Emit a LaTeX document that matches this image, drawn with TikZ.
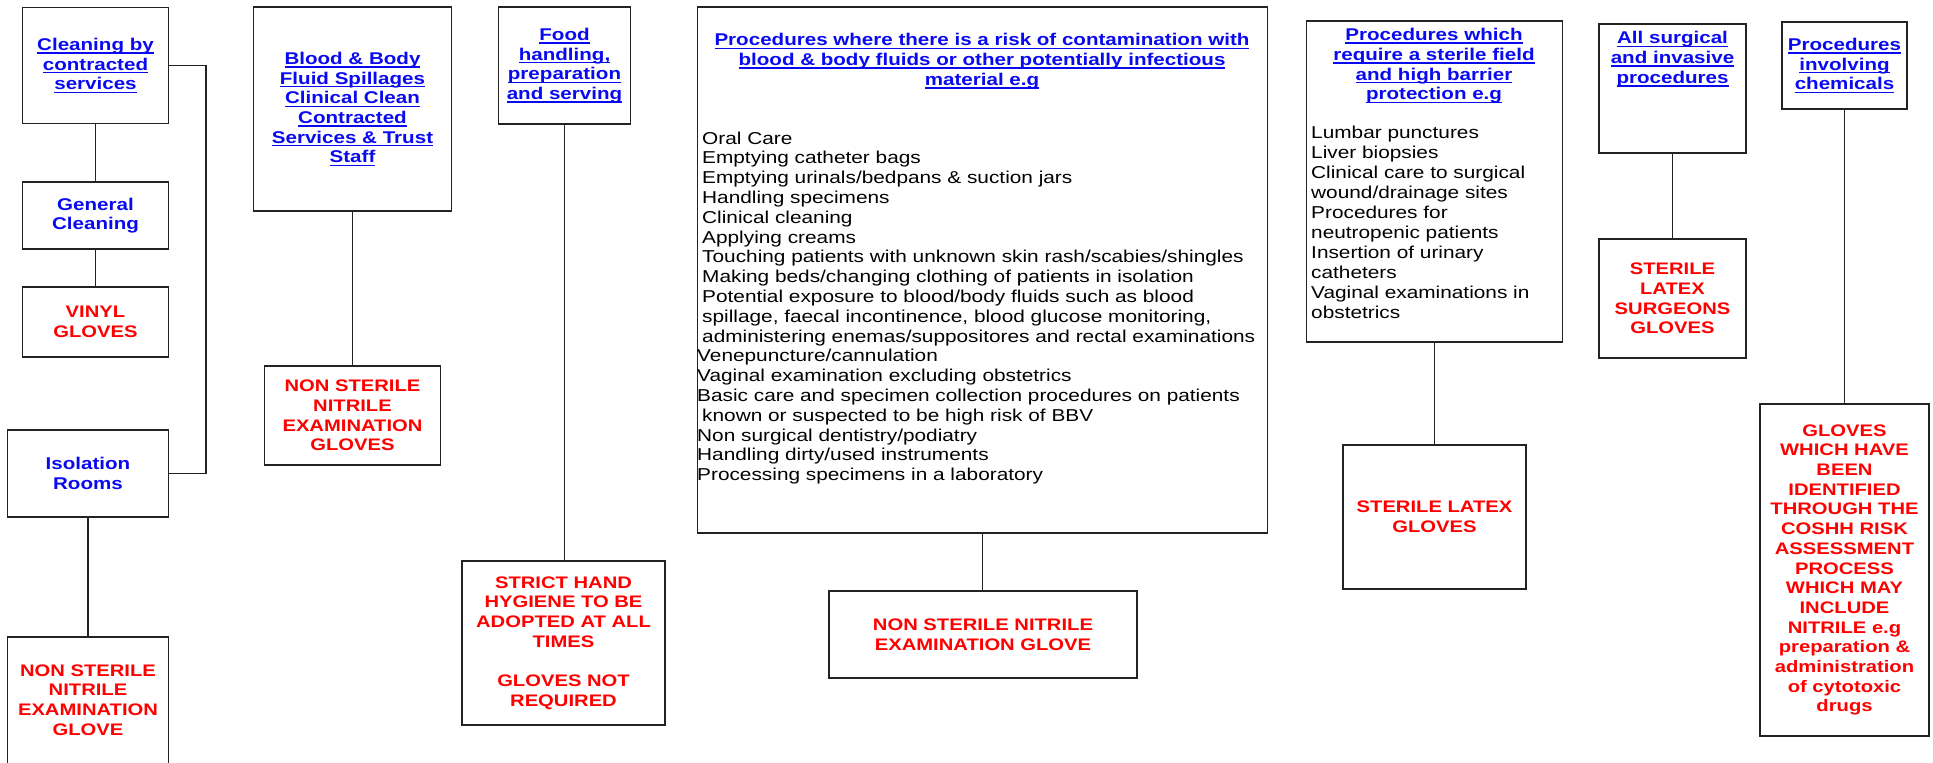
\documentclass[tikz,border=0pt]{standalone}
\usepackage{fontspec}
\setmainfont{Liberation Sans}[FakeStretch=1.21]
\definecolor{hblue}{RGB}{10,10,240}
\definecolor{hred}{RGB}{255,0,0}
\definecolor{edge}{RGB}{35,35,35}
\newcommand\uln[1]{\setbox0\hbox{#1}\rlap{\rule[-3.2pt]{\wd0}{1.4pt}}\box0}
\begin{document}
\begin{tikzpicture}[x=1pt,y=-1pt,
  box/.style={draw=edge, line width=1.4pt, inner sep=0pt, align=center},
  bx/.style 2 args={box, minimum width=#1pt, minimum height=#2pt},
  hdr/.style={text=hblue, align=center, inner sep=0pt, font=\bfseries\fontsize{17}{19.7}\selectfont},
  red/.style={text=hred, font=\bfseries\fontsize{16.7}{19.7}\selectfont},
  body/.style={text=black, align=left, inner sep=0pt, font=\fontsize{17.2}{19.8}\selectfont},
  conn/.style={draw=edge, line width=1.6pt}]
\fill[white] (0,0) rectangle (1933,763);
\useasboundingbox (0,0) rectangle (1933,763);

% column 1
\node[bx={146}{116}, hdr] (b1) at (95.5,65.5) {\uln{Cleaning by}\\\uln{contracted}\\\uln{services}};
\node[bx={146}{67}, hdr] (b2) at (95.5,215.5) {General\\Cleaning};
\node[bx={146}{70}, red] (b3) at (95.5,322) {VINYL\\GLOVES};
\node[bx={161}{87}, hdr] (iso) at (88,473.5) {Isolation\\Rooms};
\node[bx={161}{140}] (nsl) at (88,707) {};
\node[red, align=center, inner sep=0pt] (nslt) at (88,700) {NON STERILE\\NITRILE\\EXAMINATION\\GLOVE};

% column 2
\node[bx={198}{204}, hdr] (blood) at (352.5,109) {\uln{Blood \& Body}\\\uln{Fluid Spillages}\\\uln{Clinical Clean}\\\uln{Contracted}\\\uln{Services \& Trust}\\\uln{Staff}};
\node[bx={176}{99}, red] (nsn) at (352.5,415.5) {NON STERILE\\NITRILE\\EXAMINATION\\GLOVES};

% column 3
\node[bx={132}{117}, hdr] (food) at (564.5,65.5) {\uln{Food}\\\uln{handling,}\\\uln{preparation}\\\uln{and serving}};
\node[bx={203}{164}, red] (strict) at (563.5,643) {STRICT HAND\\HYGIENE TO BE\\ADOPTED AT ALL\\TIMES\\[19.7pt]GLOVES NOT\\REQUIRED};

% column 4
\node[bx={570}{526}] (big) at (982.5,270) {};
\node[hdr, anchor=north] (bigh) at (982,32) {\strut\uln{Procedures where there is a risk of contamination with}\\\uln{blood \& body fluids or other potentially infectious}\\\uln{material e.g}};
\node[body, anchor=north west] (bigb) at (697,130) {\strut\hspace*{5pt}Oral Care\\
\hspace*{5pt}Emptying catheter bags\\
\hspace*{5pt}Emptying urinals/bedpans \& suction jars\\
\hspace*{5pt}Handling specimens\\
\hspace*{5pt}Clinical cleaning\\
\hspace*{5pt}Applying creams\\
\hspace*{5pt}Touching patients with unknown skin rash/scabies/shingles\\
\hspace*{5pt}Making beds/changing clothing of patients in isolation\\
\hspace*{5pt}Potential exposure to blood/body fluids such as blood\\
\hspace*{5pt}spillage, faecal incontinence, blood glucose monitoring,\\
\hspace*{5pt}administering enemas/suppositores and rectal examinations\\
Venepuncture/cannulation\\
Vaginal examination excluding obstetrics\\
Basic care and specimen collection procedures on patients\\
\hspace*{5pt}known or suspected to be high risk of BBV\\
Non surgical dentistry/podiatry\\
Handling dirty/used instruments\\
Processing specimens in a laboratory};
\node[bx={308}{87}, red] (nsm) at (983,634.5) {NON STERILE NITRILE\\EXAMINATION GLOVE};

% column 5
\node[bx={256}{321}] (sf) at (1434.5,181.5) {};
\node[hdr, anchor=north] (sfh) at (1434,26.7) {\strut\uln{Procedures which}\\\uln{require a sterile field}\\\uln{and high barrier}\\\uln{protection e.g}};
\node[body, anchor=north west, font=\fontsize{17.2}{20}\selectfont] (sfb) at (1311,124) {\strut Lumbar punctures\\Liver biopsies\\Clinical care to surgical\\wound/drainage sites\\Procedures for\\neutropenic patients\\Insertion of urinary\\catheters\\Vaginal examinations in\\obstetrics};
\node[bx={183}{144}, red] (sl) at (1434.5,517) {STERILE LATEX\\GLOVES};

% column 6
\node[bx={147}{129}] (surg) at (1672.5,88.5) {};
\node[hdr, anchor=north] (surgh) at (1672.5,30) {\strut\uln{All surgical}\\\uln{and invasive}\\\uln{procedures}};
\node[bx={147}{119}, red] (ssg) at (1672.5,298.5) {STERILE\\LATEX\\SURGEONS\\GLOVES};

% column 7
\node[bx={125}{87}, hdr] (chem) at (1844.5,65.5) {\uln{Procedures}\\\uln{involving}\\\uln{chemicals}};
\node[bx={169}{332}, red] (gw) at (1844.5,570) {GLOVES\\WHICH HAVE\\BEEN\\IDENTIFIED\\THROUGH THE\\COSHH RISK\\ASSESSMENT\\PROCESS\\WHICH MAY\\INCLUDE\\NITRILE e.g\\preparation \&\\administration\\of cytotoxic\\drugs};

% connectors
\draw[conn] (b1.south) -- (b2.north);
\draw[conn] (b2.south) -- (b3.north);
\draw[conn] (b1.east) -- ++(37,0) |- (iso.east);
\draw[conn] (iso.south) -- (iso.south |- nsl.north);
\draw[conn] (blood.south) -- (nsn.north);
\draw[conn] (food.south) -- (food.south |- strict.north);
\draw[conn] (big.south) -- (big.south |- nsm.north);
\draw[conn] (sf.south) -- (sf.south |- sl.north);
\draw[conn] (surg.south) -- (ssg.north);
\draw[conn] (chem.south) -- (gw.north);
\end{tikzpicture}
\end{document}
